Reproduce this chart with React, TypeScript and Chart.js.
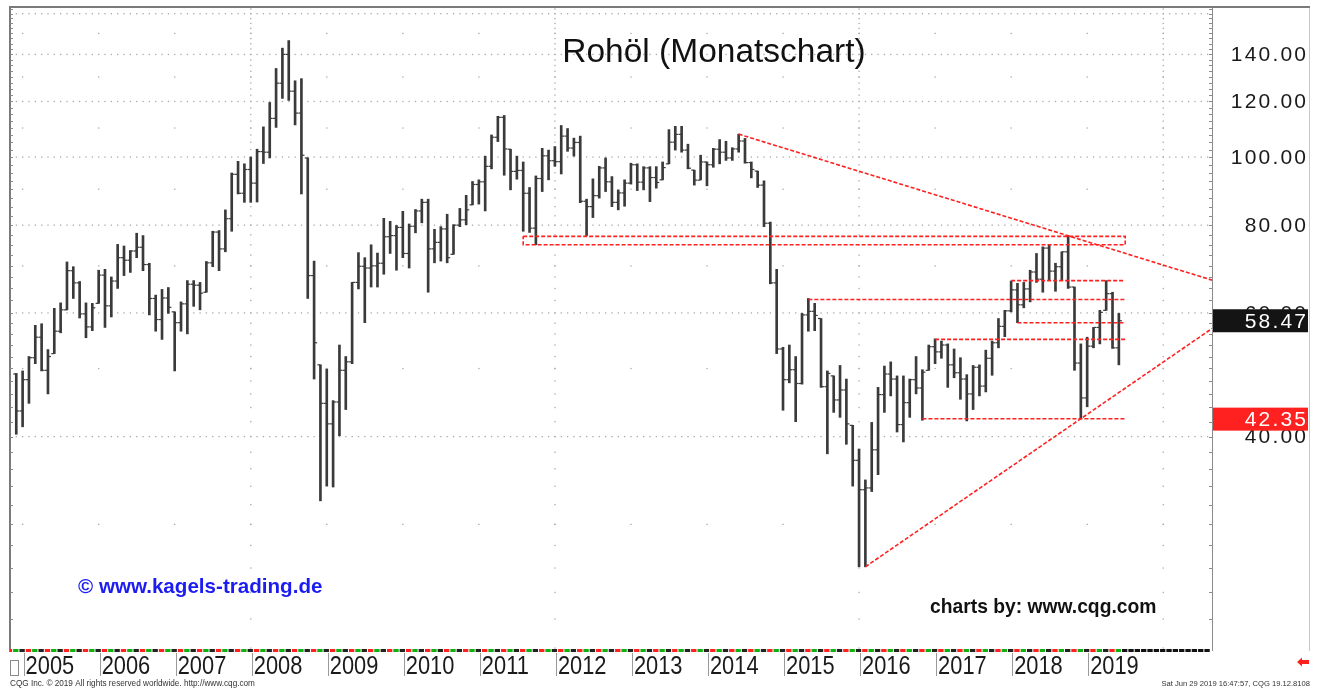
import React, { useEffect, useRef } from "react";
import { Chart, registerables } from "chart.js";
Chart.register(...registerables);

// Month index: 0 = Jan 2005; first bar is Dec 2004 (index -1)
const FIRST_MONTH = -1;

const opens = [
  49.1,
  43.5, 48.2, 51.8, 55.4, 49.7, 52.5, 56.5, 60.6, 68.9, 66.2, 59.8, 57.3,
  61.9, 67.9, 61.4, 66.6, 71.9, 71.3, 73.5, 74.4, 70.3, 62.9, 58.7, 63.0,
  60.2, 58.1, 61.8, 65.9, 65.7, 64.2, 70.7, 78.2, 74.0, 81.7, 94.5, 88.8,
  96.0, 91.8, 101.8, 101.6, 113.5, 127.4, 140.0, 124.1, 115.5, 99.7, 67.8, 50.6,
  44.6, 41.7, 44.8, 49.7, 51.1, 66.3, 69.9, 69.5, 70.0, 70.6, 77.0, 77.3,
  79.4, 72.9, 79.7, 83.8, 86.2, 74.0, 75.6, 79.0, 72.7, 80.0, 81.4, 85.5,
  91.4, 92.2, 97.0, 106.7, 113.9, 102.6, 95.4, 95.7, 88.8, 79.2, 93.2, 100.4,
  98.8, 98.5, 107.1, 103.0, 104.9, 86.5, 85.0, 88.1, 96.5, 92.2, 86.2, 88.9,
  91.8, 97.5, 92.1, 96.5, 93.5, 92.8, 97.8, 105.0, 107.7, 102.3, 95.8, 92.7,
  98.4, 97.5, 102.6, 101.6, 99.7, 102.7, 105.4, 98.2, 95.5, 91.2, 80.5, 66.2,
  53.3, 48.2, 49.8, 47.6, 59.6, 60.3, 58.9, 47.1, 48.8, 45.1, 46.6, 41.5,
  37.0, 33.6, 33.8, 38.3, 45.9, 49.1, 48.3, 41.6, 44.7, 48.2, 46.9, 49.7,
  53.7, 52.8, 54.0, 50.6, 49.3, 48.3, 46.0, 50.2, 47.2, 51.7, 54.4, 57.4,
  60.4, 64.7, 61.6, 64.9, 68.6, 67.0, 74.2, 68.8, 69.8, 73.3, 65.3, 50.9,
  45.4, 53.8, 57.2, 60.5, 63.9, 53.5,
];
const highs = [
  49.2,
  49.6, 52.0, 57.6, 57.9, 53.2, 60.9, 62.0, 70.9, 69.8, 66.5, 62.0, 61.9,
  69.0, 69.2, 67.5, 75.1, 74.7, 73.6, 77.9, 77.3, 70.6, 63.6, 64.8, 65.2,
  60.2, 62.2, 66.7, 66.7, 66.3, 71.0, 78.4, 78.6, 84.1, 94.9, 98.6, 97.8,
  100.0, 102.6, 110.4, 119.6, 133.7, 142.9, 146.5, 128.4, 129.3, 99.7, 71.1, 50.6,
  49.9, 45.0, 54.0, 52.0, 66.3, 73.1, 71.9, 75.0, 73.0, 81.8, 81.0, 79.9,
  83.7, 80.3, 84.2, 87.1, 87.1, 78.9, 79.6, 82.9, 80.1, 84.5, 88.2, 92.3,
  92.8, 100.3, 107.5, 114.3, 114.6, 102.6, 100.3, 98.4, 90.5, 94.0, 102.9, 102.3,
  103.5, 110.9, 109.8, 106.4, 107.1, 87.1, 93.1, 97.0, 99.7, 93.8, 89.8, 92.8,
  98.0, 97.8, 96.9, 96.9, 96.9, 98.4, 109.4, 110.6, 110.6, 104.3, 95.8, 100.6,
  98.4, 102.9, 105.9, 105.3, 103.1, 107.8, 106.3, 98.4, 95.5, 92.5, 80.8, 69.2,
  53.6, 54.0, 52.0, 59.9, 62.9, 61.9, 58.9, 49.6, 48.8, 50.5, 48.3, 41.5,
  38.4, 34.7, 41.9, 47.0, 50.4, 51.1, 48.8, 48.8, 48.3, 52.0, 49.8, 54.0,
  55.1, 54.7, 54.2, 53.3, 51.8, 49.0, 50.5, 50.6, 53.1, 54.7, 58.9, 60.5,
  66.6, 66.1, 66.3, 69.0, 72.9, 74.5, 75.1, 70.6, 73.3, 77.3, 65.3, 54.2,
  55.4, 57.2, 60.5, 66.7, 64.2, 59.9,
];
const lows = [
  40.3,
  41.3, 44.6, 50.8, 49.6, 46.0, 52.5, 56.2, 60.6, 62.9, 59.0, 55.3, 56.6,
  61.9, 57.2, 59.2, 65.0, 67.8, 68.5, 71.9, 68.9, 59.6, 56.5, 55.0, 59.9,
  49.6, 56.5, 56.0, 61.3, 60.6, 64.2, 69.8, 68.9, 73.3, 78.4, 88.6, 86.2,
  86.2, 86.3, 97.9, 99.7, 110.2, 121.2, 120.4, 111.1, 88.6, 62.9, 48.3, 32.4,
  34.0, 33.9, 40.1, 43.7, 50.8, 64.9, 58.1, 65.3, 65.3, 68.1, 72.9, 69.0,
  71.9, 69.5, 78.0, 80.6, 64.2, 70.7, 71.1, 70.7, 72.7, 79.6, 80.1, 85.5,
  85.7, 83.8, 96.2, 105.2, 94.2, 89.8, 93.0, 78.4, 78.1, 75.0, 89.3, 92.8,
  97.0, 94.6, 101.9, 100.3, 86.1, 77.3, 82.0, 87.4, 89.3, 85.0, 84.1, 85.1,
  91.5, 89.6, 89.8, 86.4, 90.3, 92.8, 97.8, 102.3, 101.6, 96.2, 91.2, 92.8,
  91.0, 96.7, 97.8, 98.9, 98.9, 101.6, 98.0, 93.4, 90.5, 79.6, 66.0, 52.5,
  43.6, 47.7, 42.0, 47.5, 56.5, 56.6, 47.0, 37.8, 43.3, 42.6, 39.0, 34.0,
  26.1, 26.1, 33.4, 35.3, 43.3, 45.7, 40.6, 39.3, 42.6, 46.0, 42.2, 49.7,
  50.8, 51.7, 47.0, 48.5, 45.2, 42.1, 43.7, 45.7, 46.3, 48.9, 53.5, 55.5,
  60.2, 58.1, 61.0, 62.2, 66.3, 64.2, 66.7, 64.4, 66.7, 65.0, 49.7, 42.4,
  44.1, 53.5, 54.2, 60.5, 53.4, 50.6,
];
const closes = [
  43.5,
  48.2, 51.8, 55.4, 49.7, 52.0, 56.5, 60.6, 68.9, 66.2, 59.8, 57.3, 61.0,
  67.9, 61.4, 66.6, 71.9, 71.3, 73.5, 74.4, 70.3, 62.9, 58.7, 63.0, 61.1,
  58.1, 61.8, 65.9, 65.7, 64.0, 70.7, 78.2, 74.0, 81.7, 94.5, 88.8, 96.0,
  91.8, 101.8, 101.6, 113.5, 127.4, 140.0, 124.1, 115.5, 100.6, 67.8, 54.4, 44.6,
  41.7, 44.8, 49.7, 51.1, 66.3, 69.9, 69.5, 70.0, 70.6, 77.0, 77.3, 79.4,
  72.9, 79.7, 83.8, 86.2, 74.0, 75.6, 79.0, 71.9, 80.0, 81.4, 84.1, 91.4,
  92.2, 97.0, 106.7, 113.9, 102.7, 95.4, 95.7, 88.8, 79.2, 93.2, 100.4, 98.8,
  98.5, 107.1, 103.0, 104.9, 86.5, 85.0, 88.1, 96.5, 92.2, 86.2, 88.9, 91.8,
  97.5, 92.1, 96.5, 93.5, 92.0, 96.6, 105.0, 107.7, 102.3, 96.4, 92.7, 98.4,
  97.5, 102.6, 101.6, 99.7, 102.7, 105.4, 98.2, 96.0, 91.2, 80.5, 66.2, 53.3,
  48.2, 49.8, 47.6, 59.6, 60.3, 59.5, 47.1, 49.2, 45.1, 46.6, 41.7, 37.0,
  33.6, 33.8, 38.3, 45.9, 49.1, 48.3, 41.6, 44.7, 48.2, 46.9, 49.4, 53.7,
  52.8, 54.0, 50.6, 49.3, 48.3, 46.0, 50.2, 47.2, 51.7, 54.4, 57.4, 60.4,
  64.7, 61.6, 64.9, 68.6, 67.0, 74.2, 68.8, 69.8, 73.3, 65.3, 50.9, 45.4,
  53.8, 57.2, 60.1, 63.9, 53.5, 58.47,
];

const yearLabels = [
  "2005", "2006", "2007", "2008", "2009", "2010", "2011", "2012",
  "2013", "2014", "2015", "2016", "2017", "2018", "2019",
];
const priceLabels = [40, 60, 80, 100, 120, 140];
const majorGridValues = [40, 60, 80, 100, 120, 140, 160];
const minorGridValues = [30, 50, 70, 90, 110, 130, 150];
const verticalGridYears = [2008, 2012, 2016, 2020];

const lastPrice = 58.47;
const supportPrice = 42.35;

// Annotations (month index, price)
const downTrend = [
  { m: 113, v: 107.8 },
  { m: 187.7, v: 66.8 },
];
const upTrend = [
  { m: 133, v: 26.1 },
  { m: 187.7, v: 57.0 },
];
const levelStarts = [124, 156, 157, 144, 142];
const levelValues = [62.7, 66.7, 58.1, 55.0, 42.4];
const levelEnd = 174;
const boxStart = 79;
const boxLow = 75.0;
const boxHigh = 77.1;

const X_MIN = -1.99;
const X_MAX = 187.7;
const Y_MIN = 20;
const Y_MAX = 163;

const RED = "#ff2020";
const BAR = "#3a3a3a";

function minorTicks(): number[] {
  const out: number[] = [];
  for (let v = 20; v < 60; v += 2) out.push(v);
  for (let v = 60; v <= 162.5; v += 2.5) out.push(v);
  return out;
}

function drawSpaced(
  ctx: CanvasRenderingContext2D,
  text: string,
  x: number,
  y: number,
  spacing: number,
  align: "left" | "right"
) {
  let w = 0;
  const widths = [...text].map((c) => ctx.measureText(c).width);
  widths.forEach((cw, i) => (w += cw + (i < widths.length - 1 ? spacing : 0)));
  let cx = align === "right" ? x - w : x;
  ctx.textAlign = "left";
  [...text].forEach((c, i) => {
    ctx.fillText(c, cx, y);
    cx += widths[i] + spacing;
  });
}

const decorPlugin = {
  id: "decor",
  beforeDraw(chart: any) {
    const { ctx, width, height } = chart;
    ctx.save();
    ctx.fillStyle = "#ffffff";
    ctx.fillRect(0, 0, width, height);
    ctx.restore();
  },
  beforeDatasetsDraw(chart: any) {
    const { ctx, chartArea: ca } = chart;
    const x = chart.scales.x;
    const y = chart.scales.y;
    ctx.save();
    ctx.fillStyle = "#a9a9a9";
    for (const v of majorGridValues) {
      const py = y.getPixelForValue(v);
      if (py < ca.top) continue;
      for (let m = Math.ceil(X_MIN); m <= X_MAX; m++) {
        const px = x.getPixelForValue(m);
        ctx.fillRect(px - 0.6, py - 0.6, 1.3, 1.3);
      }
    }
    for (const v of minorGridValues) {
      const py = y.getPixelForValue(v);
      for (let k = 0; k <= 15; k++) {
        const px = x.getPixelForValue(12 * k);
        if (px > ca.right) continue;
        ctx.fillRect(px - 0.6, py - 0.6, 1.3, 1.3);
      }
    }
    const ticks = minorTicks();
    for (const yr of verticalGridYears) {
      const px = x.getPixelForValue((yr - 2005) * 12);
      for (const v of ticks) {
        const py = y.getPixelForValue(v);
        if (py < ca.top || py > ca.bottom) continue;
        ctx.fillRect(px - 0.6, py - 0.6, 1.3, 1.3);
      }
    }
    ctx.restore();
  },
  afterDraw(chart: any) {
    const { ctx, chartArea: ca } = chart;
    const x = chart.scales.x;
    const y = chart.scales.y;
    ctx.save();

    // frame
    ctx.strokeStyle = "#7a7a7a";
    ctx.lineWidth = 2;
    ctx.beginPath();
    ctx.moveTo(ca.left, 652);
    ctx.lineTo(ca.left, ca.top - 1);
    ctx.lineTo(1310, ca.top - 1);
    ctx.stroke();
    ctx.strokeStyle = "#c8c8c8";
    ctx.lineWidth = 1;
    ctx.beginPath();
    ctx.moveTo(1309.5, ca.top);
    ctx.lineTo(1309.5, 651);
    ctx.stroke();
    ctx.strokeStyle = "#8a8a8a";
    ctx.beginPath();
    ctx.moveTo(ca.right + 0.5, ca.top);
    ctx.lineTo(ca.right + 0.5, 651);
    ctx.stroke();

    // axis ticks (left and right)
    ctx.strokeStyle = "#8a8a8a";
    ctx.lineWidth = 1;
    for (const v of minorTicks()) {
      const py = Math.round(y.getPixelForValue(v)) + 0.5;
      if (py < ca.top || py > ca.bottom) continue;
      ctx.beginPath();
      ctx.moveTo(ca.left, py);
      ctx.lineTo(ca.left + 3, py);
      ctx.moveTo(ca.right - 3, py);
      ctx.lineTo(ca.right, py);
      ctx.stroke();
    }

    // bottom strip
    const colors = ["#222222", RED, "#10b010"];
    for (let m = Math.floor(X_MIN); m < X_MAX; m++) {
      const x0 = Math.max(ca.left, x.getPixelForValue(m - 0.5));
      const x1 = Math.min(ca.right, x.getPixelForValue(m + 0.5));
      ctx.fillStyle = m > closes.length + FIRST_MONTH - 1 ? "#111111" : colors[((m % 3) + 3) % 3];
      ctx.fillRect(x0, ca.bottom + 1, x1 - x0 - 1, 3);
    }

    // year separators and labels
    ctx.font = "26px 'Liberation Sans', Arial, sans-serif";
    ctx.textBaseline = "alphabetic";
    yearLabels.forEach((lab, k) => {
      const px = x.getPixelForValue(12 * k);
      ctx.strokeStyle = "#9a9a9a";
      ctx.lineWidth = 1;
      ctx.beginPath();
      ctx.moveTo(Math.round(px) + 1.5, 653);
      ctx.lineTo(Math.round(px) + 1.5, 676);
      ctx.stroke();
      ctx.fillStyle = "#1a1a1a";
      ctx.save();
      ctx.translate(px + 3, 674);
      ctx.scale(0.84, 1);
      ctx.textAlign = "left";
      ctx.fillText(lab, 0, 0);
      ctx.restore();
    });

    // small square bottom-left
    ctx.strokeStyle = "#8a8a8a";
    ctx.lineWidth = 1;
    ctx.strokeRect(10.5, 660.5, 8, 15);

    // red arrow bottom-right
    ctx.fillStyle = RED;
    ctx.beginPath();
    ctx.moveTo(1297, 662);
    ctx.lineTo(1302, 657.5);
    ctx.lineTo(1302, 660);
    ctx.lineTo(1309, 660);
    ctx.lineTo(1309, 664);
    ctx.lineTo(1302, 664);
    ctx.lineTo(1302, 666.5);
    ctx.closePath();
    ctx.fill();

    // y axis labels
    ctx.font = "21px 'Liberation Sans', Arial, sans-serif";
    ctx.textBaseline = "middle";
    ctx.fillStyle = "#1a1a1a";
    for (const v of priceLabels) {
      const py = y.getPixelForValue(v);
      drawSpaced(ctx, v.toFixed(2), 1306, py + 1, 2.2, "right");
    }

    // price boxes
    const boxes = [
      { v: lastPrice, bg: "#141414" },
      { v: supportPrice, bg: RED },
    ];
    for (const b of boxes) {
      const py = y.getPixelForValue(b.v);
      ctx.fillStyle = b.bg;
      ctx.fillRect(ca.right + 1, py - 11.5, 1308 - ca.right - 1, 23);
      ctx.fillStyle = "#ffffff";
      drawSpaced(ctx, b.v.toFixed(2), 1306, py + 1, 2.2, "right");
    }

    // title
    ctx.fillStyle = "#111111";
    ctx.textBaseline = "alphabetic";
    ctx.font = "33.5px 'Liberation Sans', Arial, sans-serif";
    ctx.textAlign = "center";
    ctx.fillText("Rohöl (Monatschart)", 714, 62);

    // watermark texts
    ctx.textAlign = "left";
    ctx.font = "bold 20.6px 'Liberation Sans', Arial, sans-serif";
    ctx.fillStyle = "#1c1cf0";
    ctx.fillText("© www.kagels-trading.de", 78, 593);
    ctx.fillStyle = "#111111";
    ctx.font = "bold 19.3px 'Liberation Sans', Arial, sans-serif";
    ctx.fillText("charts by: www.cqg.com", 930, 613);

    // footer
    ctx.font = "8.2px 'Liberation Sans', Arial, sans-serif";
    ctx.fillStyle = "#333333";
    ctx.fillText("CQG Inc. © 2019 All rights reserved worldwide. http://www.cqg.com", 10, 686);
    ctx.textAlign = "right";
    ctx.font = "7.6px 'Liberation Sans', Arial, sans-serif";
    ctx.fillText("Sat Jun 29 2019 16:47:57, CQG 19.12.8108", 1310, 686);

    ctx.restore();
  },
};

export default function App() {
  const ref = useRef<HTMLCanvasElement | null>(null);
  useEffect(() => {
    if (!ref.current) return;
    const months = closes.map((_, i) => FIRST_MONTH + i);
    const lineDs = (pts: { x: number; y: number }[]) => ({
      type: "line" as const,
      data: pts,
      borderColor: RED,
      borderWidth: 1.6,
      borderDash: [4, 2],
      pointRadius: 0,
      fill: false,
      tension: 0,
      order: 0,
    });
    const datasets: any[] = [
      {
        type: "bar",
        data: months.map((m, i) => ({ x: m, y: [lows[i], highs[i]] })),
        backgroundColor: BAR,
        borderWidth: 0,
        barThickness: 2,
        grouped: false,
        order: 2,
      },
      {
        type: "scatter",
        data: months.map((m, i) => ({ x: m - 0.24, y: opens[i] })),
        pointStyle: "line",
        radius: 1.5,
        borderColor: BAR,
        borderWidth: 1.2,
        order: 1,
      },
      {
        type: "scatter",
        data: months.map((m, i) => ({ x: m + 0.24, y: closes[i] })),
        pointStyle: "line",
        radius: 1.5,
        borderColor: BAR,
        borderWidth: 1.2,
        order: 1,
      },
      lineDs(downTrend.map((p) => ({ x: p.m, y: p.v }))),
      lineDs(upTrend.map((p) => ({ x: p.m, y: p.v }))),
      ...levelValues.map((v, i) =>
        lineDs([
          { x: levelStarts[i], y: v },
          { x: levelEnd, y: v },
        ])
      ),
      lineDs([
        { x: boxStart, y: boxHigh },
        { x: levelEnd, y: boxHigh },
        { x: levelEnd, y: boxLow },
        { x: boxStart, y: boxLow },
        { x: boxStart, y: boxHigh },
      ]),
    ];
    const chart = new Chart(ref.current, {
      type: "bar",
      data: { datasets },
      options: {
        responsive: false,
        animation: false,
        devicePixelRatio: 1,
        layout: { padding: { left: 10, top: 8, right: 109, bottom: 40 } },
        plugins: { legend: { display: false }, tooltip: { enabled: false } },
        scales: {
          x: { type: "linear", min: X_MIN, max: X_MAX, display: false, offset: false },
          y: { type: "logarithmic", min: Y_MIN, max: Y_MAX, display: false },
        },
      } as any,
      plugins: [decorPlugin],
    });
    return () => chart.destroy();
  }, []);
  return (
    <div style={{ position: "fixed", left: 0, top: 0, width: 1321, height: 688, background: "#fff" }}>
      <canvas ref={ref} width={1321} height={688} style={{ display: "block" }} />
    </div>
  );
}
